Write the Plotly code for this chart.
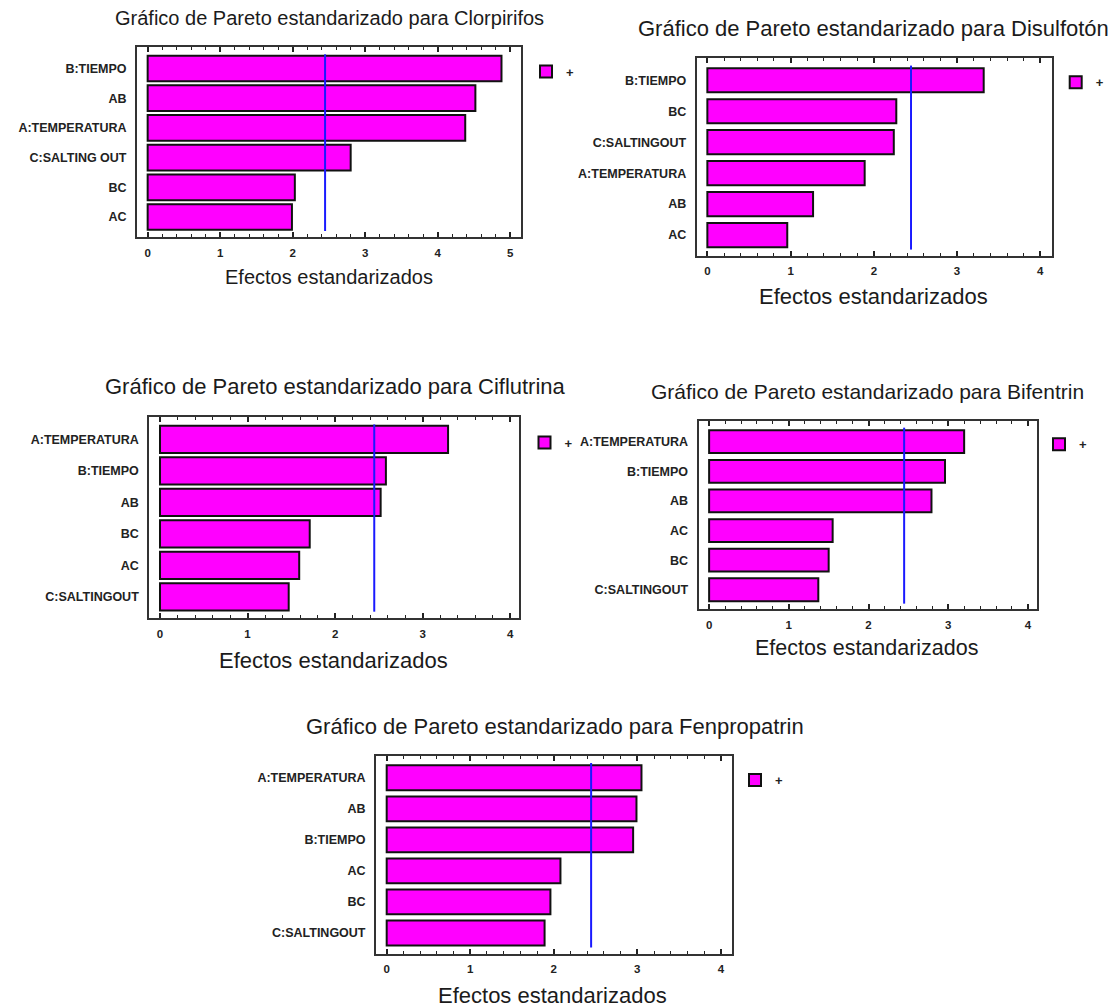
import plotly.graph_objects as go

# Valor crítico de t (α = 0.05) para los efectos estandarizados
CRITICO = 2.447

compuestos = ["Clorpirifos", "Disulfotón", "Ciflutrina", "Bifentrin", "Fenpropatrin"]

etiquetas_clorpirifos = ["B:TIEMPO", "AB", "A:TEMPERATURA", "C:SALTING OUT", "BC", "AC"]
efectos_clorpirifos = [4.88, 4.52, 4.38, 2.80, 2.03, 1.99]

etiquetas_disulfoton = ["B:TIEMPO", "BC", "C:SALTINGOUT", "A:TEMPERATURA", "AB", "AC"]
efectos_disulfoton = [3.32, 2.27, 2.24, 1.89, 1.27, 0.96]

etiquetas_ciflutrina = ["A:TEMPERATURA", "B:TIEMPO", "AB", "BC", "AC", "C:SALTINGOUT"]
efectos_ciflutrina = [3.29, 2.58, 2.52, 1.71, 1.59, 1.47]

etiquetas_bifentrin = ["A:TEMPERATURA", "B:TIEMPO", "AB", "AC", "BC", "C:SALTINGOUT"]
efectos_bifentrin = [3.20, 2.96, 2.79, 1.55, 1.50, 1.37]

etiquetas_fenpropatrin = ["A:TEMPERATURA", "AB", "B:TIEMPO", "AC", "BC", "C:SALTINGOUT"]
efectos_fenpropatrin = [3.05, 2.99, 2.95, 2.08, 1.96, 1.89]

etiquetas = [etiquetas_clorpirifos, etiquetas_disulfoton, etiquetas_ciflutrina,
             etiquetas_bifentrin, etiquetas_fenpropatrin]
efectos = [efectos_clorpirifos, efectos_disulfoton, efectos_ciflutrina,
           efectos_bifentrin, efectos_fenpropatrin]

W, H = 1118, 1007
FUENTE = "Liberation Sans, Arial, sans-serif"
MAGENTA = "#FF00FF"
AZUL = "#1a1aff"

# Geometría de cada panel en píxeles: marco (izq, der, arriba, abajo),
# rango del eje x, grosor de barra, centro del título, centro del rótulo x,
# centro del recuadro de leyenda y tamaños de letra.
paneles = [
    dict(marco=(137, 520.7, 47.3, 236.7), rx=(-0.147, 5.145), bw=0.86,
         tit=(329, 18.3), ejex=(329, 276.7), ley=(546, 71.5), ft=20, fe=20),
    dict(marco=(696.7, 1051.7, 58.3, 255.5), rx=(-0.128, 4.137), bw=0.78,
         tit=(873.5, 28.3), ejex=(873.2, 296), ley=(1075.7, 82.2), ft=22, fe=22),
    dict(marco=(149.3, 519, 417, 617.7), rx=(-0.122, 4.10), bw=0.86,
         tit=(335.4, 386.7), ejex=(333, 660), ley=(544.5, 442.5), ft=22, fe=22),
    dict(marco=(698.6, 1036.6, 420.7, 609.3), rx=(-0.132, 4.109), bw=0.77,
         tit=(867.1, 391.7), ejex=(867, 648.3), ley=(1059, 444.3), ft=21, fe=21.5),
    dict(marco=(376, 731.7, 755.7, 953.5), rx=(-0.128, 4.13), bw=0.80,
         tit=(554.6, 726.7), ejex=(552.5, 995), ley=(755, 780), ft=22, fe=22),
]

fig = go.Figure()
layout = dict(
    width=W, height=H, margin=dict(l=0, r=0, t=0, b=0),
    paper_bgcolor="white", plot_bgcolor="white",
    font=dict(family=FUENTE, color="#1b1b1b"),
    annotations=[], shapes=[],
)

for i, (p, nombre) in enumerate(zip(paneles, compuestos)):
    n = "" if i == 0 else str(i + 1)
    xa, ya = "x" + n, "y" + n
    leg = "legend" + n
    izq, der, arr, aba = p["marco"]

    fig.add_trace(go.Bar(
        x=efectos[i], y=etiquetas[i], orientation="h",
        width=p["bw"], name="+",
        marker=dict(color=MAGENTA, line=dict(color="#111111", width=2)),
        xaxis=xa, yaxis=ya, legend=leg, showlegend=True,
        hoverinfo="x+y",
    ))

    layout["xaxis" + n] = dict(
        domain=[izq / W, der / W], anchor=ya, range=list(p["rx"]),
        tickmode="linear", tick0=0, dtick=1,
        ticks="inside", ticklen=5, tickwidth=1.5, tickcolor="#222",
        mirror="allticks", showline=True, linecolor="#333", linewidth=2,
        showgrid=False, zeroline=False, ticklabelstandoff=4,
        tickfont=dict(size=11.5, family=FUENTE, color="#222", weight="bold"),
        minor=dict(tick0=0, dtick=0.2, ticks="inside", ticklen=3,
                   tickwidth=1, tickcolor="#222"),
        fixedrange=True,
    )
    layout["yaxis" + n] = dict(
        domain=[1 - aba / H, 1 - arr / H], anchor=xa,
        type="category", categoryorder="array", categoryarray=etiquetas[i],
        range=[5.66, -0.71], showline=True, mirror=True,
        linecolor="#333", linewidth=2, ticks="", showgrid=False,
        zeroline=False, ticklabelstandoff=6,
        tickfont=dict(size=12.5, family=FUENTE, color="#222", weight="bold"),
        fixedrange=True,
    )
    layout[leg] = dict(
        x=(p["ley"][0] - 20) / W, y=1 - p["ley"][1] / H,
        xanchor="left", yanchor="middle",
        bgcolor="rgba(0,0,0,0)", borderwidth=0,
        font=dict(size=13, family=FUENTE, color="#222", weight="bold"),
    )

    # Línea del valor crítico
    layout["shapes"].append(dict(
        type="line", xref=xa, yref=ya + " domain",
        x0=CRITICO, x1=CRITICO, y0=0.03, y1=0.963,
        line=dict(color=AZUL, width=2),
    ))

    layout["annotations"].append(dict(
        text="Gráfico de Pareto estandarizado para " + nombre,
        xref="paper", yref="paper",
        x=p["tit"][0] / W, y=1 - p["tit"][1] / H,
        xanchor="center", yanchor="middle", showarrow=False,
        font=dict(size=p["ft"], family=FUENTE, color="#1b1b1b"),
    ))
    layout["annotations"].append(dict(
        text="Efectos estandarizados",
        xref="paper", yref="paper",
        x=p["ejex"][0] / W, y=1 - p["ejex"][1] / H,
        xanchor="center", yanchor="middle", showarrow=False,
        font=dict(size=p["fe"], family=FUENTE, color="#1b1b1b"),
    ))

fig.update_layout(**layout)
fig.write_html("out.html")
